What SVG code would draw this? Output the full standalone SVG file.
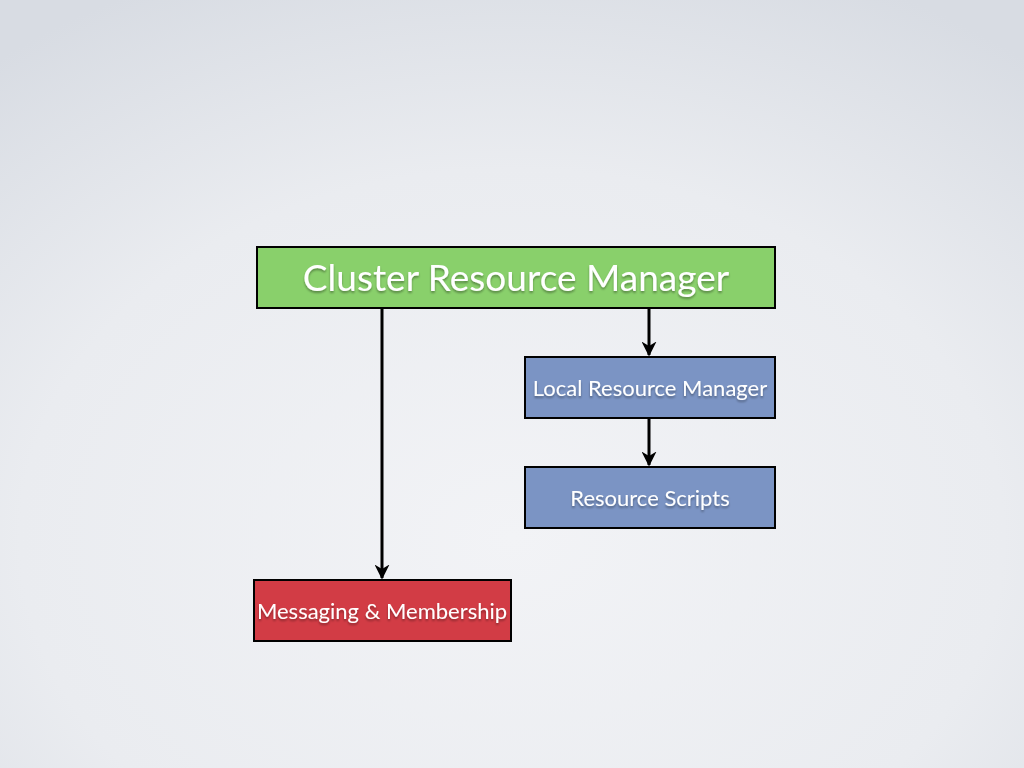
<svg xmlns="http://www.w3.org/2000/svg" width="1024" height="768" viewBox="0 0 1024 768">
<defs>
<radialGradient id="bg" cx="50%" cy="70%" r="80%">
<stop offset="0" stop-color="#f2f3f6"/>
<stop offset="0.6" stop-color="#eaecf0"/>
<stop offset="1" stop-color="#d8dce3"/>
</radialGradient>
<filter id="sh" x="-10%" y="-30%" width="120%" height="160%">
<feDropShadow dx="0" dy="2" stdDeviation="1.2" flood-color="#000" flood-opacity="0.35"/>
</filter>
<marker id="ah" viewBox="0 0 10 10" refX="9" refY="5" markerWidth="5" markerHeight="5" orient="auto" markerUnits="strokeWidth">
<path d="M0,0 L10,5 L0,10 L3,5 Z" fill="#000"/>
</marker>
</defs>
<style>
.box{stroke:#000;stroke-width:2}
.lbl{font-family:Lato,"Open Sans","Liberation Sans",sans-serif;fill:#fff;text-anchor:middle;filter:url(#sh)}
.edge{stroke:#000;stroke-width:3;fill:none;marker-end:url(#ah)}
</style>
<rect width="1024" height="768" fill="url(#bg)"/>
<g id="connectors">
<line class="edge" x1="382" y1="309" x2="382" y2="578"/>
<line class="edge" x1="649" y1="309" x2="649" y2="355"/>
<line class="edge" x1="649" y1="419" x2="649" y2="465"/>
</g>
<g id="crm">
<rect class="box" x="257" y="247" width="518" height="61" fill="#89d06b"/>
<text class="lbl" x="516" y="291" font-size="37">Cluster Resource Manager</text>
</g>
<g id="lrm">
<rect class="box" x="525" y="357" width="250" height="61" fill="#7b94c4"/>
<text class="lbl" x="650" y="396" font-size="22">Local Resource Manager</text>
</g>
<g id="rs">
<rect class="box" x="525" y="467" width="250" height="61" fill="#7b94c4"/>
<text class="lbl" x="650" y="506" font-size="22">Resource Scripts</text>
</g>
<g id="mm">
<rect class="box" x="254" y="580" width="257" height="61" fill="#d23c45"/>
<text class="lbl" x="382" y="619" font-size="22">Messaging &amp; Membership</text>
</g>
</svg>
